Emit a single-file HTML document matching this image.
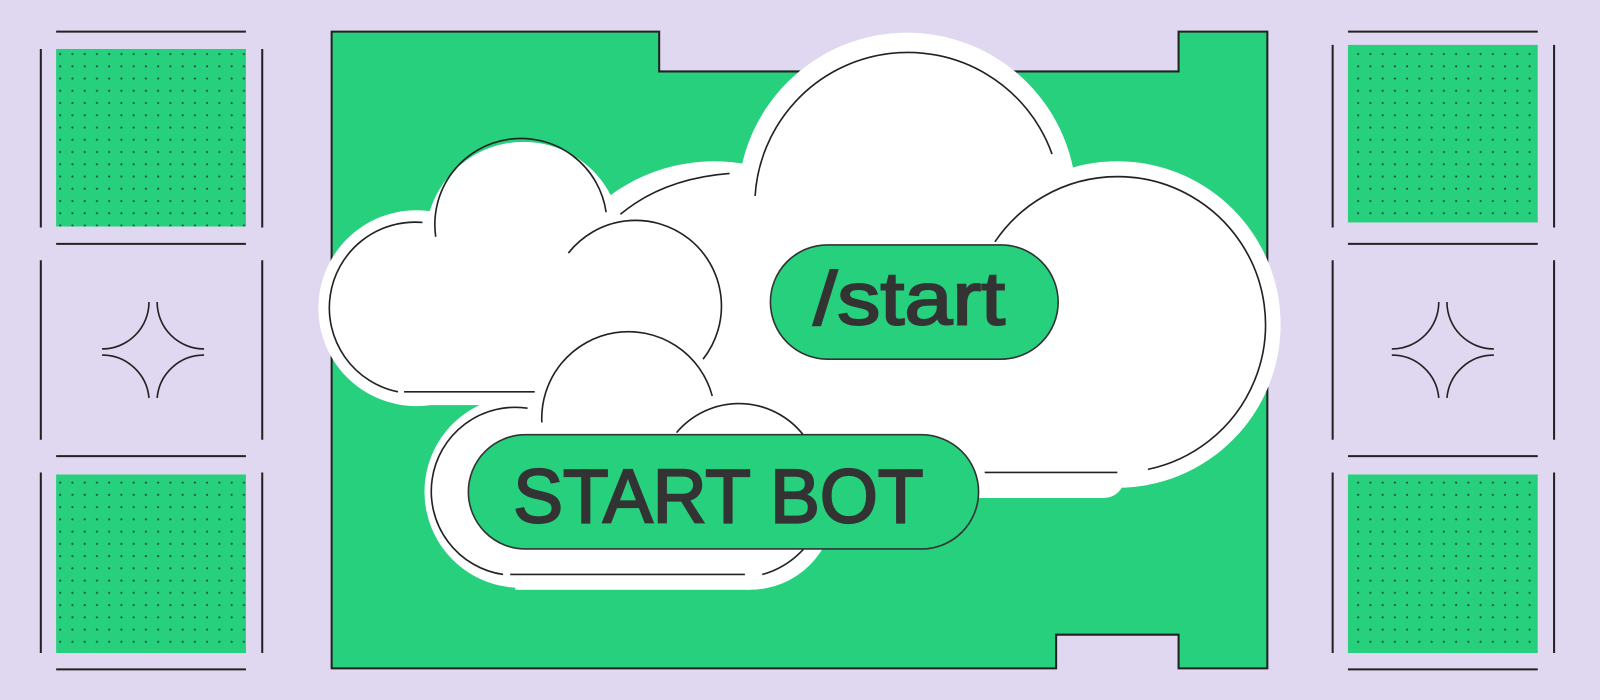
<!DOCTYPE html>
<html><head><style>
html,body{margin:0;padding:0;background:#e0d8f0;}
svg{display:block;}
</style></head><body>
<svg width="1600" height="700" viewBox="0 0 1568 686" preserveAspectRatio="none" xmlns="http://www.w3.org/2000/svg">
<defs>
<pattern id="dots" x="55" y="48" width="12" height="12" patternUnits="userSpaceOnUse">
<rect width="12" height="12" fill="#27d07d"/><circle cx="4" cy="5" r="1" fill="#1b4a33"/>
</pattern>
</defs>
<rect width="1568" height="686" fill="#e0d8f0"/>
<g stroke="#222" stroke-width="2" fill="none">
<line x1="55" y1="31" x2="241" y2="31"/><line x1="55" y1="239" x2="241" y2="239"/>
<line x1="55" y1="447" x2="241" y2="447"/><line x1="55" y1="656" x2="241" y2="656"/>
<line x1="40" y1="48" x2="40" y2="223"/><line x1="257" y1="48" x2="257" y2="223"/>
<line x1="40" y1="255" x2="40" y2="431"/><line x1="257" y1="255" x2="257" y2="431"/>
<line x1="40" y1="463" x2="40" y2="640"/><line x1="257" y1="463" x2="257" y2="640"/>
<line x1="1321" y1="31" x2="1507" y2="31"/><line x1="1321" y1="239" x2="1507" y2="239"/>
<line x1="1321" y1="447" x2="1507" y2="447"/><line x1="1321" y1="656" x2="1507" y2="656"/>
<line x1="1306" y1="44" x2="1306" y2="223"/><line x1="1523" y1="44" x2="1523" y2="223"/>
<line x1="1306" y1="255" x2="1306" y2="431"/><line x1="1523" y1="255" x2="1523" y2="431"/>
<line x1="1306" y1="463" x2="1306" y2="640"/><line x1="1523" y1="463" x2="1523" y2="640"/>
</g>
<rect x="55" y="48" width="186" height="174" fill="url(#dots)"/>
<rect x="55" y="465" width="186" height="175" fill="url(#dots)"/>
<rect x="1321" y="44" width="186" height="174" fill="url(#dots)"/>
<rect x="1321" y="465" width="186" height="175" fill="url(#dots)"/>
<g stroke="#222" stroke-width="1.6" fill="none">
<path d="M147,296 A46,46 0 0 1 101,342 M155,296 A46,46 0 0 0 201,342 M147,390 A46,46 0 0 0 101,348 M155,390 A46,46 0 0 1 201,348" transform="translate(-1,0)"/>
<path d="M147,296 A46,46 0 0 1 101,342 M155,296 A46,46 0 0 0 201,342 M147,390 A46,46 0 0 0 101,348 M155,390 A46,46 0 0 1 201,348" transform="translate(1263,0)"/>
</g>
<path d="M325,31 H646 V70 H1155 V31 H1242 V655 H1155 V622 H1035 V655 H325 Z" fill="#27d07d" stroke="#222" stroke-width="2"/>
<g fill="#fff">
<circle cx="408" cy="302" r="96"/>
<circle cx="513" cy="235" r="96"/>
<circle cx="624" cy="302" r="95"/>
<circle cx="700" cy="330" r="172"/>
<circle cx="889" cy="198" r="166"/>
<circle cx="1095" cy="318" r="160"/>
<rect x="470" y="200" width="632" height="288" rx="20"/>
<rect x="408" y="300" width="144" height="97"/>
<circle cx="510" cy="482" r="94"/>
<circle cx="615" cy="418" r="97"/>
<circle cx="722" cy="478" r="92"/>
<circle cx="735" cy="495" r="83"/>
<rect x="505" y="420" width="230" height="158"/>
</g>
<g stroke="#222" stroke-width="1.6" fill="none">
<path d="M414,218 A84,84 0 0 0 390,384"/>
<line x1="396" y1="384" x2="524" y2="384"/>
<path d="M427,232 A84,84 0 0 1 594,208"/>
<path d="M608,210 Q650,175 715,170"/>
<path d="M557,248 A83,83 0 0 1 689,352"/>
<path d="M740,192 A150,150 0 0 1 1031,151"/>
<path d="M975,237 A145,145 0 1 1 1125,460"/>
<line x1="965" y1="463" x2="1095" y2="463"/>
<path d="M517,400 A82,82 0 0 0 493,563"/>
<line x1="500" y1="563" x2="730" y2="563"/>
<path d="M531,414 A85,85 0 0 1 698,388"/>
<path d="M663,424 A80,80 0 0 1 790,430"/>
<path d="M747,563 A85,85 0 0 0 800,520"/>
</g>
<rect x="755" y="240" width="282" height="112" rx="56" fill="#27d07d" stroke="#333" stroke-width="1.6"/>
<rect x="459" y="426" width="500" height="112" rx="56" fill="#27d07d" stroke="#333" stroke-width="1.6"/>
<text x="797" y="318" font-family="Liberation Sans, sans-serif" font-size="74" fill="#333" stroke="#333" stroke-width="2" textLength="188" lengthAdjust="spacingAndGlyphs">/start</text>
<text x="503" y="512" font-family="Liberation Sans, sans-serif" font-size="75" fill="#333" stroke="#333" stroke-width="2.2" textLength="402" lengthAdjust="spacingAndGlyphs">START BOT</text>
</svg>
</body></html>
